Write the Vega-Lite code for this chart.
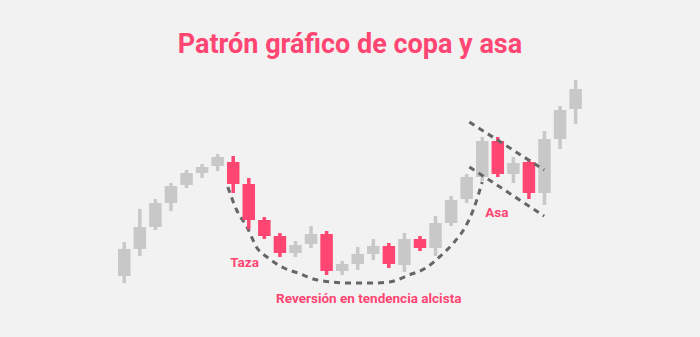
{
  "$schema": "https://vega.github.io/schema/vega-lite/v6.json",
  "width": 700,
  "height": 337,
  "autosize": {"type": "fit", "contains": "padding"},
  "padding": 0,
  "background": "#f2f2f2",
  "config": {"view": {"stroke": null}},
  "datasets": {
    "candles": [
      {"t": 1, "open": 61, "close": 88, "high": 95, "low": 54},
      {"t": 2, "open": 88, "close": 110, "high": 128, "low": 81},
      {"t": 3, "open": 110, "close": 134, "high": 138, "low": 107},
      {"t": 4, "open": 134, "close": 151, "high": 154, "low": 126},
      {"t": 5, "open": 152, "close": 164, "high": 167, "low": 149},
      {"t": 6, "open": 164, "close": 170, "high": 173, "low": 159},
      {"t": 7, "open": 171, "close": 180, "high": 183, "low": 166},
      {"t": 8, "open": 175, "close": 153, "high": 181, "low": 144},
      {"t": 9, "open": 153, "close": 117, "high": 159, "low": 108},
      {"t": 10, "open": 117, "close": 101, "high": 120, "low": 98},
      {"t": 11, "open": 101, "close": 84, "high": 104, "low": 80},
      {"t": 12, "open": 84, "close": 92, "high": 96, "low": 80},
      {"t": 13, "open": 93, "close": 103, "high": 111, "low": 89},
      {"t": 14, "open": 103, "close": 66, "high": 106, "low": 62},
      {"t": 15, "open": 66, "close": 73, "high": 76, "low": 62},
      {"t": 16, "open": 73, "close": 83, "high": 90, "low": 67},
      {"t": 17, "open": 83, "close": 91, "high": 98, "low": 77},
      {"t": 18, "open": 91, "close": 73, "high": 94, "low": 69},
      {"t": 19, "open": 72, "close": 98, "high": 104, "low": 65},
      {"t": 20, "open": 98, "close": 89, "high": 101, "low": 86},
      {"t": 21, "open": 89, "close": 114, "high": 121, "low": 81},
      {"t": 22, "open": 114, "close": 137, "high": 141, "low": 111},
      {"t": 23, "open": 138, "close": 160, "high": 163, "low": 134},
      {"t": 24, "open": 160, "close": 196, "high": 200, "low": 156},
      {"t": 25, "open": 196, "close": 163, "high": 200, "low": 160},
      {"t": 26, "open": 163, "close": 174, "high": 180, "low": 154},
      {"t": 27, "open": 175, "close": 144, "high": 178, "low": 138},
      {"t": 28, "open": 144, "close": 198, "high": 206, "low": 132},
      {"t": 29, "open": 198, "close": 227, "high": 231, "low": 188},
      {"t": 30, "open": 228, "close": 248, "high": 257, "low": 213}
    ],
    "cup": [
      {"t": 7.65, "v": 150}, {"t": 8.22, "v": 127}, {"t": 8.92, "v": 109},
      {"t": 9.49, "v": 90}, {"t": 10.25, "v": 79}, {"t": 11.26, "v": 69},
      {"t": 12.15, "v": 64}, {"t": 13.41, "v": 57}, {"t": 15.5, "v": 54},
      {"t": 16.96, "v": 54}, {"t": 18.04, "v": 55}, {"t": 19.3, "v": 62},
      {"t": 20.38, "v": 69}, {"t": 21.39, "v": 82}, {"t": 22.15, "v": 94},
      {"t": 22.91, "v": 110}, {"t": 23.42, "v": 127}, {"t": 24.0, "v": 155}
    ],
    "handle": [
      {"line": "upper", "t": 23.17, "v": 215}, {"line": "upper", "t": 27.98, "v": 167},
      {"line": "lower", "t": 23.17, "v": 170}, {"line": "lower", "t": 27.98, "v": 121}
    ],
    "labels": [
      {"t": 8.73, "v": 74, "text": "Taza"},
      {"t": 24.94, "v": 124, "text": "Asa"},
      {"t": 16.71, "v": 38, "text": "Reversión en tendencia alcista"}
    ],
    "title": [
      {"t": 15.5, "v": 292, "text": "Patrón gráfico de copa y asa"}
    ]
  },
  "layer": [
    {
      "data": {"name": "cup"},
      "mark": {"type": "line", "interpolate": "monotone", "stroke": "#666666", "strokeWidth": 3, "strokeDash": [6, 5]},
      "encoding": {
        "x": {"field": "t", "type": "quantitative", "scale": {"domain": [-6.663, 37.67], "nice": false, "zero": false}, "axis": null},
        "y": {"field": "v", "type": "quantitative", "scale": {"domain": [0, 337], "nice": false, "zero": false}, "axis": null}
      }
    },
    {
      "data": {"name": "candles"},
      "transform": [{"calculate": "datum.close >= datum.open ? 'up' : 'down'", "as": "dir"}],
      "layer": [
        {
          "mark": {"type": "rule", "strokeWidth": 3.5},
          "encoding": {
            "x": {"field": "t", "type": "quantitative", "scale": {"domain": [-6.663, 37.67], "nice": false, "zero": false}, "axis": null},
            "y": {"field": "low", "type": "quantitative", "scale": {"domain": [0, 337], "nice": false, "zero": false}, "axis": null},
            "y2": {"field": "high"},
            "color": {"field": "dir", "type": "nominal", "scale": {"domain": ["up", "down"], "range": ["#c8c8c8", "#ff4672"]}, "legend": null}
          }
        },
        {
          "mark": {"type": "bar", "size": 12.5},
          "encoding": {
            "x": {"field": "t", "type": "quantitative", "scale": {"domain": [-6.663, 37.67], "nice": false, "zero": false}, "axis": null},
            "y": {"field": "open", "type": "quantitative", "scale": {"domain": [0, 337], "nice": false, "zero": false}, "axis": null},
            "y2": {"field": "close"},
            "color": {"field": "dir", "type": "nominal", "scale": {"domain": ["up", "down"], "range": ["#c8c8c8", "#ff4672"]}, "legend": null}
          }
        }
      ]
    },
    {
      "data": {"name": "handle"},
      "mark": {"type": "line", "stroke": "#666666", "strokeWidth": 3, "strokeDash": [6, 5]},
      "encoding": {
        "x": {"field": "t", "type": "quantitative", "scale": {"domain": [-6.663, 37.67], "nice": false, "zero": false}, "axis": null},
        "y": {"field": "v", "type": "quantitative", "scale": {"domain": [0, 337], "nice": false, "zero": false}, "axis": null},
        "detail": {"field": "line", "type": "nominal"}
      }
    },
    {
      "data": {"name": "labels"},
      "mark": {"type": "text", "font": "Roboto", "fontWeight": "bold", "fontSize": 13.5, "color": "#ff4672", "align": "center", "baseline": "middle"},
      "encoding": {
        "x": {"field": "t", "type": "quantitative", "scale": {"domain": [-6.663, 37.67], "nice": false, "zero": false}, "axis": null},
        "y": {"field": "v", "type": "quantitative", "scale": {"domain": [0, 337], "nice": false, "zero": false}, "axis": null},
        "text": {"field": "text"}
      }
    },
    {
      "data": {"name": "title"},
      "mark": {"type": "text", "font": "Roboto", "fontWeight": "bold", "fontSize": 27, "color": "#ff4672", "align": "center", "baseline": "middle"},
      "encoding": {
        "x": {"field": "t", "type": "quantitative", "scale": {"domain": [-6.663, 37.67], "nice": false, "zero": false}, "axis": null},
        "y": {"field": "v", "type": "quantitative", "scale": {"domain": [0, 337], "nice": false, "zero": false}, "axis": null},
        "text": {"field": "text"}
      }
    }
  ]
}
